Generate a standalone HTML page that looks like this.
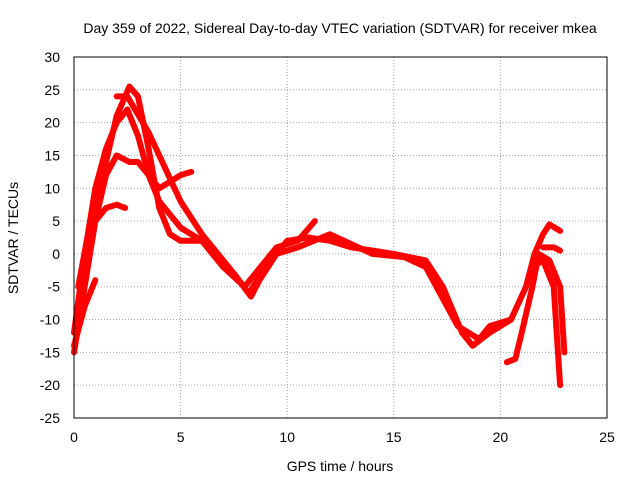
<!DOCTYPE html>
<html><head><meta charset="utf-8"><style>
body{margin:0;background:#fff}
svg{display:block;font-family:"Liberation Sans",sans-serif}
</style></head><body>
<svg id="chart" width="640" height="480">
<text x="340" y="33" font-size="14" text-anchor="middle">Day 359 of 2022, Sidereal Day-to-day VTEC variation (SDTVAR) for receiver mkea</text>
<text x="340" y="471" font-size="14" text-anchor="middle">GPS time / hours</text>
<text transform="translate(18,238) rotate(-90)" font-size="14" text-anchor="middle">SDTVAR / TECUs</text>
<g id="grid"></g><g id="ticks"></g><g id="series"></g>
<rect x="74" y="57" width="533" height="361" fill="none" stroke="#000"/>
</svg>
<script>
const xTicks=[0,5,10,15,20,25];
const yTicks=[30,25,20,15,10,5,0,-5,-10,-15,-20,-25];
const s1=[[0,-15],[0.5,-5],[1,5],[1.5,14],[2,21],[2.6,25.5],[3,24],[3.5,16],[4,7],[4.5,3],[5,2],[6,2],[7,-2],[7.5,-3],[8.2,-6],[9,-2],[10,2],[11,2.5],[12,2],[13,1],[15,0],[16.5,-1],[17.3,-5],[18.2,-12],[18.7,-14],[19.5,-12],[20.5,-10],[21.2,-5],[21.6,0],[22,3],[22.3,4.5],[22.8,3.5]];
const s2=[[0,-12],[0.5,0],[1,10],[1.5,16],[2,20],[2.5,22],[3,18],[3.5,12],[4,8],[5,4],[6,2],[7,-2],[8,-5],[8.5,-3],[9.5,1],[10.5,2],[11.3,5]];
const s3=[[0.2,-5],[0.6,2],[1,5],[1.5,12],[2,15],[2.6,14],[3,14],[3.5,12],[4,10],[5,12],[5.5,12.5]];
const s4=[[2,24],[2.5,24],[3.5,18.5],[4,15],[5,8],[6,3],[7,-1],[7.5,-3],[8.3,-6.5],[8.7,-4],[9.5,0],[10.5,1],[12,3],[13,1.5],[14,0],[15.5,-0.5],[16.5,-2],[17.5,-8],[18,-11],[19,-13],[19.5,-11],[20.5,-10]];
const s5=[[0,-14],[0.5,-8],[1,-4]];
const s6=[[0.5,0],[1,5],[1.5,7],[2,7.5],[2.4,7]];
const s7=[[20.3,-16.5],[20.7,-16],[21,-12],[21.5,-5],[21.8,0],[22.3,-1],[22.8,-5],[23,-15]];
const s8=[[21.5,-2],[22,-1],[22.5,-5],[22.8,-20]];
const s9=[[22,1],[22.5,1],[22.8,0.5]];
const allSeries=[s1,s2,s3,s4,s5,s6,s7,s8,s9];
const X=v=>74+v*533/25, Y=v=>57+(30-v)*361/55;
const NS="http://www.w3.org/2000/svg";
const g=document.getElementById('grid'),t=document.getElementById('ticks'),sg=document.getElementById('series');
function mk(tag,attrs,parent){const e=document.createElementNS(NS,tag);for(const k in attrs)e.setAttribute(k,attrs[k]);parent.appendChild(e);return e;}
xTicks.forEach(v=>{
 if(v>0&&v<25){const l=mk('line',{x1:X(v),x2:X(v),y1:57,y2:418,stroke:'#a0a0a0','stroke-dasharray':'1,2'},g);
 
 }
 const tx=mk('text',{x:X(v),y:442,'font-size':14,'text-anchor':'middle'},t);tx.textContent=v;
 
 
});
yTicks.forEach(v=>{
 if(v<30&&v>-25){const l=mk('line',{x1:74,x2:607,y1:Y(v),y2:Y(v),stroke:'#a0a0a0','stroke-dasharray':'1,2'},g);
 
 }
 const tx=mk('text',{x:60,y:Y(v)+5,'font-size':14,'text-anchor':'end'},t);tx.textContent=v;
 
 
});
allSeries.forEach((s,i)=>{
 const p=mk('polyline',{points:s.map(d=>X(d[0])+','+Y(d[1])).join(' '),fill:'none',stroke:'#ff0000','stroke-width':6,'stroke-linejoin':'round','stroke-linecap':'round'},sg);
 
 
});
</script>
</body></html>
